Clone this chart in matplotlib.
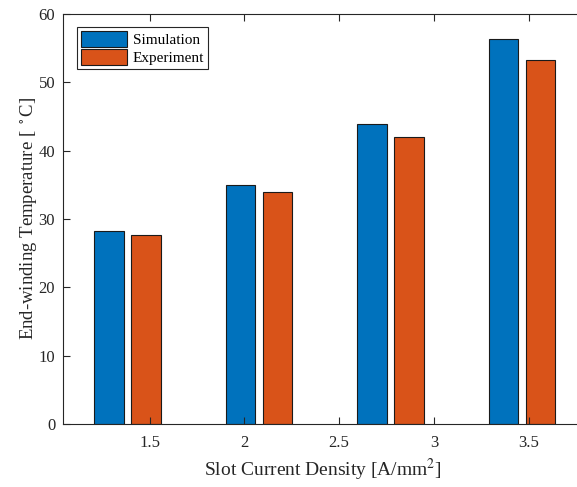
import numpy as np
import matplotlib
matplotlib.use("Agg")
import matplotlib.pyplot as plt

# Data
densities = [1.382, 2.077, 2.772, 3.466]
simulation = [28.3, 35.0, 43.9, 56.3]
experiment = [27.7, 33.9, 42.0, 53.2]
x_ticks = [1.5, 2, 2.5, 3, 3.5]
y_ticks = [0, 10, 20, 30, 40, 50, 60]

plt.rcParams["font.family"] = ["Liberation Serif", "DejaVu Serif"]
plt.rcParams["mathtext.fontset"] = "stix"

fig = plt.figure(figsize=(5.77, 4.87), dpi=100)
# right edge of the axes sits just outside the picture, as in the reference
ax = fig.add_axes([0.110, 0.1294, 0.8995, 0.8419])

bar_width = 0.157
offset = 0.098
x = np.array(densities)
ax.bar(x - offset, simulation, bar_width, color="#0072BD",
       edgecolor="#1a1a1a", linewidth=0.8, label="Simulation")
ax.bar(x + offset, experiment, bar_width, color="#D95319",
       edgecolor="#1a1a1a", linewidth=0.8, label="Experiment")

ax.set_xlim(1.044, 3.785)
ax.set_ylim(0, 60)
ax.set_xticks(x_ticks)
ax.set_xticklabels(["1.5", "2", "2.5", "3", "3.5"])
ax.set_yticks(y_ticks)

for spine in ax.spines.values():
    spine.set_color("#262626")
    spine.set_linewidth(0.8)
ax.tick_params(direction="in", top=True, right=False, length=5,
               width=0.8, color="#262626", labelsize=12, labelcolor="#262626")
ax.tick_params(axis="x", pad=8)
ax.tick_params(axis="y", pad=6)

ax.set_xlabel("Slot Current Density [A/mm$^2$]", fontsize=14,
              color="#262626", labelpad=4)
ax.set_ylabel(r"End-winding Temperature [ $^\circ$C]", fontsize=13.5,
              color="#262626", labelpad=0)

leg = ax.legend(loc="upper left", bbox_to_anchor=(0.026, 0.968), fontsize=11,
                handlelength=3.0, handleheight=1.2, handletextpad=0.4,
                borderpad=0.25, labelspacing=0.15, borderaxespad=0,
                fancybox=False, edgecolor="#262626", framealpha=1)
leg.get_frame().set_linewidth(0.8)

fig.savefig("out.png", dpi=100)
